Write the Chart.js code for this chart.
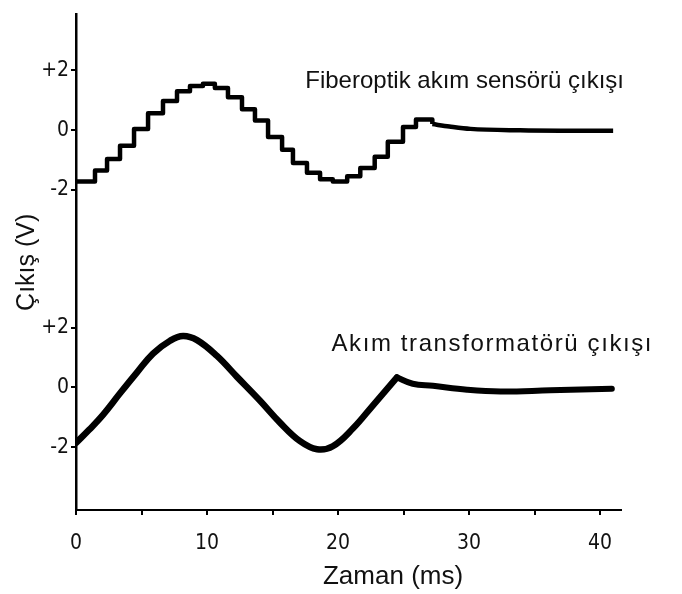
<!DOCTYPE html>
<html lang="tr">
<head>
<meta charset="UTF-8">
<title>Çıkış (V) - Zaman (ms)</title>
<style>
    body { margin: 0; background: #fff; }
    #grafik { display: block; }
</style>
</head>
<body>
<canvas id="grafik" width="682" height="594"></canvas>

<script src="https://cdn.jsdelivr.net/npm/chart.js@4.4.0/dist/chart.umd.min.js"></script>
<script>

    // fiberoptik akım sensörü - basamaklı kısım (ms, V)
    var basamakZaman = [0, 1.45, 2.37, 3.36, 4.43, 5.5, 6.64, 7.71, 8.7, 9.69, 10.6, 11.6, 12.67,
        13.66, 14.66, 15.73, 16.56, 17.63, 18.63, 19.6, 20.7, 21.7, 22.8, 23.8, 24.96, 25.95, 27.2];
    var basamakDeger = [-1.72, -1.35, -0.97, -0.52, 0.04, 0.56, 0.97, 1.3, 1.47, 1.55, 1.41, 1.1, 0.7,
        0.32, -0.23, -0.66, -1.1, -1.43, -1.64, -1.72, -1.54, -1.27, -0.89, -0.39, 0.1, 0.35, 0.2];

    // fiberoptik - sönümlenen kuyruk
    var kuyrukZaman = [27.2, 28.5, 30.1, 33.9, 37, 41];
    var kuyrukDeger = [0.2, 0.12, 0.04, -0.01, -0.02, -0.02];

    // akım transformatörü çıkışı (24.5 ms'deki sivri tepeye kadar)
    var trafoZaman = [0, 1.0, 2.06, 3.36, 4.66, 5.88, 7.18, 8.17, 9.24, 10.76, 12.29, 14.05, 15.57,
        17.1, 18.4, 19.6, 21.15, 22.67, 24.5];
    var trafoDeger = [-1.86, -1.42, -0.92, -0.2, 0.5, 1.13, 1.56, 1.72, 1.58, 1.05, 0.35, -0.45, -1.18,
        -1.8, -2.07, -1.97, -1.37, -0.6, 0.33];

    // akım transformatörü - tepeden sonrası
    var trafoKuyrukZaman = [24.5, 25.7, 27.25, 29.85, 32.4, 36.2, 40.9];
    var trafoKuyrukDeger = [0.33, 0.12, 0.05, -0.08, -0.14, -0.1, -0.05];

    var xTikler = [0, 5, 10, 15, 20, 25, 30, 35, 40];
    var xEtiketler = ['0', '', '10', '', '20', '', '30', '', '40'];
    var yTikler = [-2, 0, 2];
    var yEtiketler = ['-2', '0', '+2'];

    var ustKayma = 8.6; // üst eğri bu kadar yukarı kaydırılıyor

    function noktalar(xs, ys, kayma) {
        return xs.map(function (x, i) { return { x: x, y: ys[i] + kayma }; });
    }

    var yaziTipi = "'Liberation Sans', Arial, sans-serif";
    var tikTipi = "'DejaVu Sans Condensed', 'DejaVu Sans', sans-serif";

    // eğri açıklamaları ve x ekseni başlığı
    var notlar = {
        id: 'notlar',
        afterDatasetsDraw: function (chart) {
            var ctx = chart.ctx;
            var xs = chart.scales.x, ys = chart.scales.y;
            ctx.save();
            ctx.fillStyle = '#111';
            ctx.font = '24px ' + yaziTipi;
            ctx.textBaseline = 'alphabetic';
            ctx.fillText('Fiberoptik akım sensörü çıkışı', xs.getPixelForValue(17.5), ys.getPixelForValue(10.0));
            ctx.letterSpacing = '1.6px';
            ctx.fillText('Akım transformatörü çıkışı', xs.getPixelForValue(19.5), ys.getPixelForValue(1.2));
            ctx.letterSpacing = '0px';
            ctx.font = '26px ' + yaziTipi;
            ctx.textAlign = 'center';
            ctx.textBaseline = 'middle';
            ctx.fillText('Zaman (ms)', xs.getPixelForValue(24.2), 577);
            ctx.restore();
        }
    };

    var grafik = new Chart(document.getElementById('grafik'), {
        type: 'line',
        data: {
            datasets: [{
                label: 'Fiberoptik akım sensörü çıkışı',
                data: noktalar(basamakZaman, basamakDeger, ustKayma),
                stepped: 'before',
                borderColor: '#000',
                borderWidth: 4.5,
                borderJoinStyle: 'round',
                pointRadius: 0
            }, {
                label: 'Fiberoptik kuyruk',
                data: noktalar(kuyrukZaman, kuyrukDeger, ustKayma),
                cubicInterpolationMode: 'monotone',
                borderColor: '#000',
                borderWidth: 4.5,
                pointRadius: 0
            }, {
                label: 'Akım transformatörü çıkışı',
                data: noktalar(trafoZaman, trafoDeger, 0),
                tension: 0.4,
                borderColor: '#000',
                borderWidth: 6.5,
                borderCapStyle: 'round',
                pointRadius: 0
            }, {
                label: 'Akım transformatörü kuyruk',
                data: noktalar(trafoKuyrukZaman, trafoKuyrukDeger, 0),
                tension: 0.4,
                borderColor: '#000',
                borderWidth: 6,
                borderCapStyle: 'round',
                pointRadius: 0
            }]
        },
        options: {
            responsive: false,
            animation: false,
            layout: { padding: { top: 5, right: 61, left: 0, bottom: 0 } },
            plugins: { legend: { display: false }, tooltip: { enabled: false } },
            scales: {
                x: {
                    type: 'linear',
                    min: 0,
                    max: 41.6,
                    afterBuildTicks: function (s) { s.ticks = xTikler.map(function (v) { return { value: v }; }); },
                    afterFit: function (s) { s.height = 84; },
                    border: { color: '#000', width: 2 },
                    grid: { drawOnChartArea: false, drawTicks: true, tickLength: 5, color: '#000', lineWidth: 2 },
                    ticks: {
                        color: '#111',
                        padding: 16,
                        maxRotation: 0,
                        autoSkip: false,
                        font: { family: tikTipi, size: 21 },
                        callback: function (v) { return xEtiketler[xTikler.indexOf(v)]; }
                    }
                },
                y: {
                    type: 'linear',
                    min: -4.1,
                    max: 12.46,
                    afterBuildTicks: function (s) {
                        s.ticks = yTikler.map(function (v) { return { value: v }; })
                            .concat(yTikler.map(function (v) { return { value: v + ustKayma }; }));
                    },
                    afterFit: function (s) { s.width = 76; },
                    border: { color: '#000', width: 2.5 },
                    grid: { drawOnChartArea: false, drawTicks: true, tickLength: 5, color: '#000', lineWidth: 2 },
                    ticks: {
                        color: '#111',
                        padding: 2,
                        autoSkip: false,
                        font: { family: tikTipi, size: 21 },
                        callback: function (v) {
                            var d = v > 5 ? Math.round((v - ustKayma) * 10) / 10 : v;
                            return yEtiketler[yTikler.indexOf(d)];
                        }
                    },
                    title: {
                        display: true,
                        text: 'Çıkış (V)',
                        color: '#111',
                        font: { family: yaziTipi, size: 25 },
                        padding: { top: 12, bottom: 0 }
                    }
                }
            }
        },
        plugins: [notlar]
    });

</script>
</body>
</html>
